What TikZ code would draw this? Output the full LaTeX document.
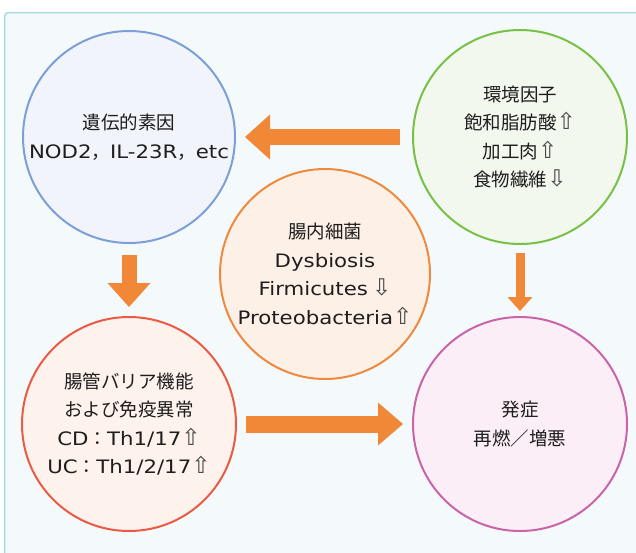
\documentclass[tikz,border=0pt]{standalone}
\usepackage{fontspec}
\usetikzlibrary{arrows.meta}
\newfontfamily\jp{Noto Sans CJK JP}
\newfontfamily\lat[FakeStretch=1.15]{DejaVu Sans}
\newfontfamily\symf{DejaVu Sans}
\definecolor{bgfill}{HTML}{F4F9FC}
\definecolor{bgborder}{HTML}{A6DCDF}
\definecolor{blueS}{HTML}{7B9FD6}
\definecolor{blueF}{HTML}{F2F4FB}
\definecolor{greenS}{HTML}{78C046}
\definecolor{greenF}{HTML}{F3F8EE}
\definecolor{orangeS}{HTML}{EE8A3E}
\definecolor{orangeF}{HTML}{FDF0E6}
\definecolor{redS}{HTML}{EA5A44}
\definecolor{redF}{HTML}{FDF2EC}
\definecolor{pinkS}{HTML}{C964A8}
\definecolor{pinkF}{HTML}{FBEEF7}
\definecolor{arrowc}{HTML}{F08838}
\definecolor{textc}{HTML}{1E1E1E}
\definecolor{symc}{HTML}{4A4A4A}
\newcommand\uparr{{\symf\fontsize{23}{28.5}\selectfont\color{symc}⇧}}
\newcommand\dnarr{{\symf\fontsize{23}{28.5}\selectfont\color{symc}⇩}}
\tikzset{
  circ/.style={circle, inner sep=0pt, outer sep=0pt, minimum size=#1, line width=2pt,
    align=center, text=textc, font=\jp\fontsize{18.5}{28.5}\selectfont},
  blockarrow/.style n args={3}{draw=arrowc, line width=#1,
    -{Triangle[width=#2, length=#3, line width=0pt, fill=arrowc]}},
}
\begin{document}
\begin{tikzpicture}[x=1pt,y=-1pt]
\path[use as bounding box] (0,0) rectangle (636,552);
\draw[draw=bgborder, fill=bgfill, line width=1.5pt, rounded corners=4pt] (4.5,12.5) rectangle (645,565);

\node[circ=212pt, draw=blueS, fill=blueF] (gen) at (129,137)
  {遺伝的素因\\{\lat NOD2}，{\lat IL-23R}，{\lat etc}};
\node[circ=214pt, draw=greenS, fill=greenF] (env) at (520,137)
  {環境因子\\飽和脂肪酸\uparr\\加工肉\uparr\\食物繊維\dnarr};
\node[circ=210pt, draw=orangeS, fill=orangeF] (flora) at (325,274)
  {腸内細菌\\{\lat Dysbiosis}\\{\lat Firmicutes} \dnarr\\{\lat Proteobacteria}\uparr};
\node[circ=214pt, draw=redS, fill=redF] (bar) at (129,424)
  {腸管バリア機能\\および免疫異常\\{\lat CD}：{\lat Th1/17}\uparr\\{\lat UC}：{\lat Th1/2/17}\uparr};
\node[circ=214pt, draw=pinkS, fill=pinkF] (onset) at (520,424)
  {発症\\再燃／増悪};

\draw[blockarrow={16pt}{45pt}{25pt}, shorten <=13pt, shorten >=10pt] (env) -- (gen);
\draw[blockarrow={15pt}{43pt}{24pt}, shorten <=12pt, shorten >=10pt] (gen) -- (bar);
\draw[blockarrow={9pt}{25pt}{14pt}, shorten <=9pt, shorten >=6pt] (env) -- (onset);
\draw[blockarrow={17pt}{43pt}{25pt}, shorten <=10pt, shorten >=10pt] (bar) -- (onset);
\end{tikzpicture}
\end{document}
